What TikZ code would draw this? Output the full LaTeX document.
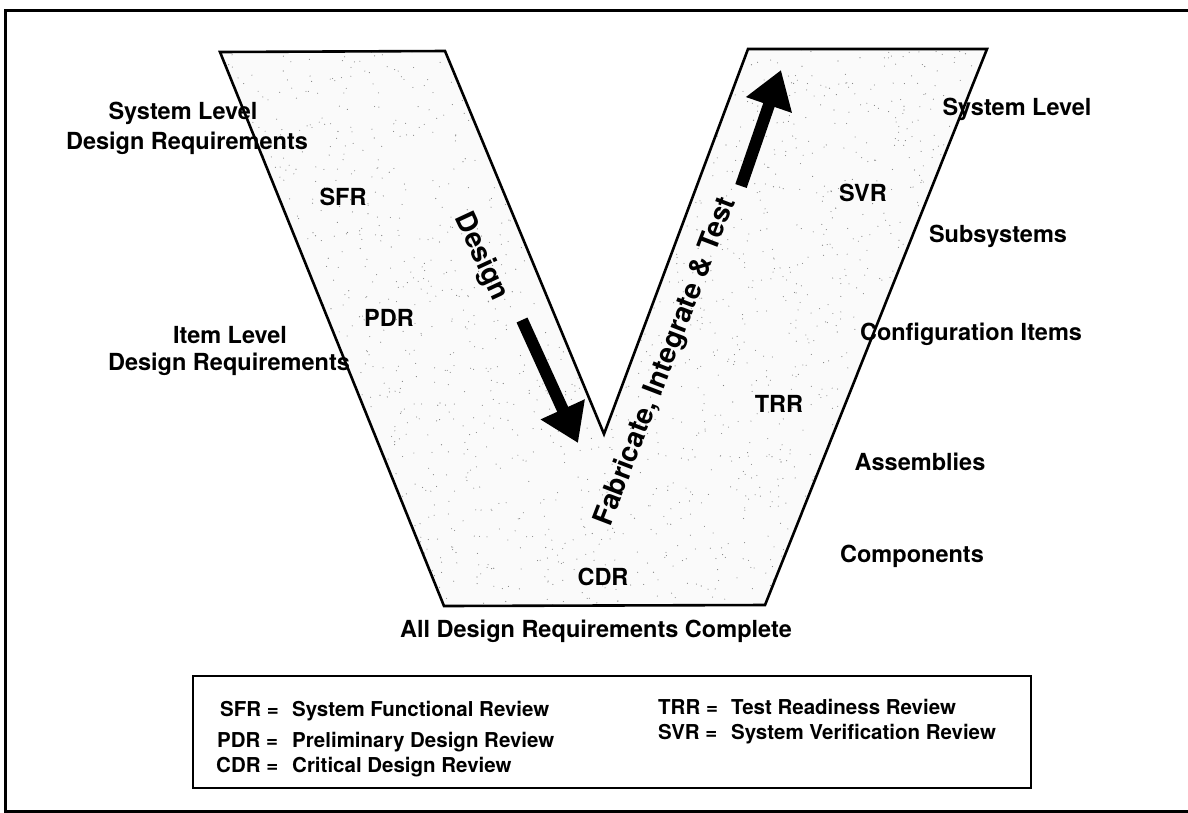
\documentclass[tikz,border=0pt]{standalone}
\usepackage{fontspec}
\setmainfont{TeX Gyre Heros}
\usetikzlibrary{arrows.meta}
\begin{document}
\begin{tikzpicture}[x=1pt,y=-1pt,
  lbl/.style={font=\fontsize{23.5}{28}\selectfont\bfseries, inner sep=0pt, anchor=base},
  leg/.style={font=\fontsize{20.5}{24}\selectfont\bfseries, inner sep=0pt, anchor=base west},
  big/.style={font=\fontsize{28}{32}\selectfont\bfseries, inner sep=0pt, anchor=center},
  bigarrow/.style={line width=12pt, -{Triangle[length=37pt 0 0, width=46pt 0 0]}},
  outline/.style={line width=2.6pt, line join=miter}]
\useasboundingbox (0,0) rectangle (1188,812);
% outer frame
\draw[line width=3pt] (5,10) rectangle (1194,811);
% V shape
\coordinate (v1) at (220,52);
\coordinate (v2) at (445,51);
\coordinate (v3) at (604,434);
\coordinate (v4) at (748,49);
\coordinate (v5) at (987,49);
\coordinate (v6) at (765,605);
\coordinate (v7) at (444,606);
\fill[black!2] (v1) -- (v2) -- (v3) -- (v4) -- (v5) -- (v6) -- (v7) -- cycle;
\begin{scope}
  \clip (v1) -- (v2) -- (v3) -- (v4) -- (v5) -- (v6) -- (v7) -- cycle;
  \pgfmathsetseed{42}
  \foreach \i in {1,...,2400}{
    \fill[black!50] (rnd*780+210, rnd*570+45) circle (0.55pt);
  }
\end{scope}
\draw[outline] (v1) -- (v2) -- (v3) -- (v4) -- (v5) -- (v6) -- (v7) -- cycle;
% arrows
\coordinate (dA) at (522,320);
\coordinate (dB) at (578,443);
\draw[bigarrow] (dA) -- (dB);
\coordinate (fA) at (741,186);
\coordinate (fB) at (781,70);
\draw[bigarrow] (fA) -- (fB);
\node[big, rotate=-65] (design) at (481,257) {Design};
\node[big, rotate=69] (fit) at (666,362) {Fabricate, Integrate \& Test};
% left labels
\node[lbl] (sl1) at (183,119) {System Level};
\node[lbl] (sl2) at (187,149) {Design Requirements};
\node[lbl] (il1) at (230,343) {Item Level};
\node[lbl] (il2) at (229,370) {Design Requirements};
% reviews
\node[lbl] (sfr) at (343,205) {SFR};
\node[lbl] (pdr) at (389,326) {PDR};
\node[lbl] (cdr) at (603,585) {CDR};
\node[lbl] (trr) at (779,412) {TRR};
\node[lbl] (svr) at (863,201) {SVR};
% right labels
\node[lbl] (rsl) at (1017,115) {System Level};
\node[lbl] (sub) at (998,242) {Subsystems};
\node[lbl] (ci) at (971,340) {Configuration Items};
\node[lbl] (asm) at (920,470) {Assemblies};
\node[lbl] (comp) at (912,562) {Components};
% bottom
\node[lbl] (all) at (596,637) {All Design Requirements Complete};
% legend
\draw[line width=2.6pt] (193,676) rectangle (1031,788);
\node[leg] (k1) at (220,716.5) {SFR =};
\node[leg] (t1) at (292,716.5) {System Functional Review};
\node[leg] (k2) at (217,747) {PDR =};
\node[leg] (t2) at (292,747) {Preliminary Design Review};
\node[leg] (k3) at (216,772.5) {CDR =};
\node[leg] (t3) at (292,772.5) {Critical Design Review};
\node[leg] (k4) at (658,714) {TRR =};
\node[leg] (t4) at (731,714) {Test Readiness Review};
\node[leg] (k5) at (658,739) {SVR =};
\node[leg] (t5) at (731,739) {System Verification Review};
\end{tikzpicture}
\end{document}
